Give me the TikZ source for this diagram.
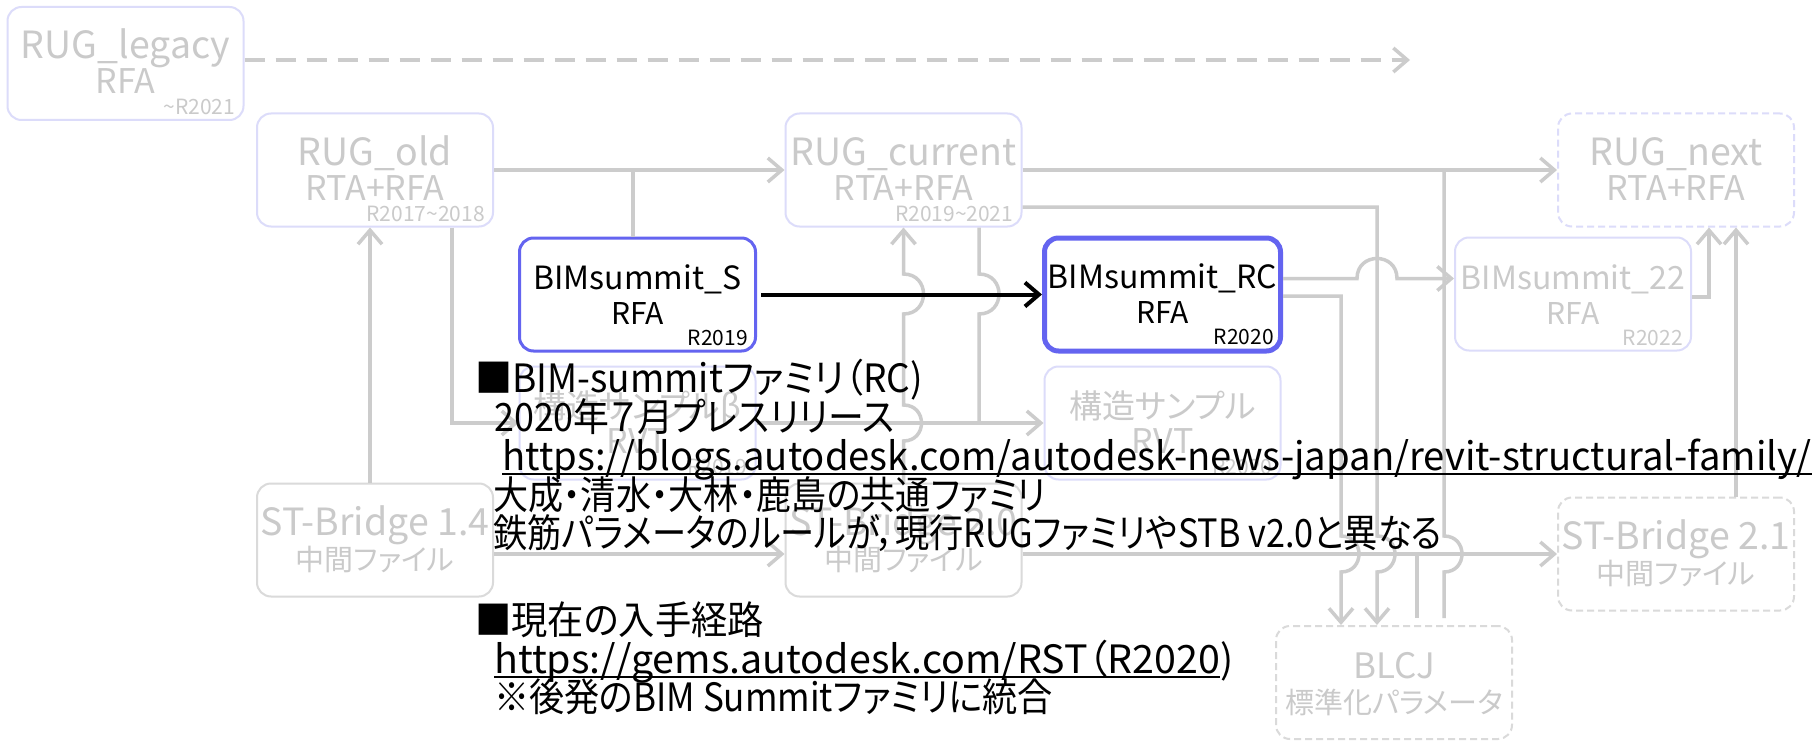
\documentclass[tikz,border=0pt]{standalone}
\usepackage{graphicx}
\usepackage{fontspec}
\setmainfont{Noto Sans CJK JP}[RawFeature=+palt]
\usetikzlibrary{arrows.meta}
\definecolor{lineg}{HTML}{CCCCCC}
\definecolor{txtg}{HTML}{CACACA}
\definecolor{lavc}{HTML}{DCDCFA}
\definecolor{boxg}{HTML}{DADADA}
\definecolor{blu}{HTML}{6464F0}
\newcommand\boxlbl[6]{%
  \node[lbl, text=#2, font=\fontsize{#3}{#3}\selectfont] (#1-t) at ([yshift=-53pt]#1.north) {#4};
  \node[lbl, text=#2, font=\fontsize{#5}{#5}\selectfont] (#1-s) at ([yshift=-88pt]#1.north) {#6};}
\newcommand\boxver[3]{\node[ver, text=#2] (#1-v) at ([xshift=-9pt,yshift=-109pt]#1.north east) {#3};}
\begin{document}
\begin{tikzpicture}[x=1pt,y=-1pt,
  rbox/.style={rounded corners=14pt, minimum width=236pt, minimum height=113pt, inner sep=0pt, line width=2pt},
  lav/.style={rbox, draw=lavc},
  gry/.style={rbox, draw=boxg},
  dsh/.style={dash pattern=on 7pt off 4pt},
  gline/.style={draw=lineg, line width=3.5pt},
  bline/.style={draw=black, line width=4pt},
  arr/.style={-{Straight Barb[length=14pt,width=24pt]}},
  lbl/.style={anchor=base, inner sep=0pt},
  ver/.style={anchor=base east, inner sep=0pt, font=\fontsize{21}{21}\selectfont},
  blk/.style={anchor=base west, inner sep=0pt, font=\fontsize{39}{39}\selectfont, text=black},
]
\fill[white] (0,0) rectangle (1816,741);
\useasboundingbox (0,0) rectangle (1816,741);

% ---------- boxes ----------
\node[lav] (legacy) at (125.5,63.5) {};
\node[lav] (old) at (375,170) {};
\node[lav] (cur) at (903.5,170) {};
\node[lav, dsh] (next) at (1676,170) {};
\node[rbox, draw=blu, line width=3pt] (S) at (637.5,294.5) {};
\node[rbox, draw=blu, line width=5pt] (RC) at (1162.5,294.5) {};
\node[lav] (b22) at (1573,294) {};
\node[lav] (kzb) at (637.5,423) {};
\node[lav] (kz) at (1162.5,423) {};
\node[gry] (st14) at (375,540) {};
\node[gry] (st20) at (903.5,540) {};
\node[gry, dsh] (st21) at (1676,554) {};
\node[gry, dsh] (blcj) at (1394,682.5) {};
\coordinate (dashend) at (1410,60);

% ---------- box labels ----------
\boxlbl{legacy}{txtg}{37.5}{RUG\_legacy}{34}{RFA}
\boxver{legacy}{txtg}{\textasciitilde R2021}
\boxlbl{old}{txtg}{37.5}{RUG\_old}{34}{RTA+RFA}
\boxver{old}{txtg}{R2017\textasciitilde 2018}
\boxlbl{cur}{txtg}{37.5}{RUG\_current}{34}{RTA+RFA}
\boxver{cur}{txtg}{R2019\textasciitilde 2021}
\boxlbl{next}{txtg}{37.5}{RUG\_next}{34}{RTA+RFA}
\boxlbl{b22}{txtg}{32}{BIMsummit\_22}{30}{RFA}
\boxver{b22}{txtg}{R2022}
\boxlbl{kzb}{txtg}{33}{構造サンプルβ}{34}{RVT}
\boxver{kzb}{txtg}{R2019}
\boxlbl{kz}{txtg}{33}{構造サンプル}{34}{RVT}
\boxver{kz}{txtg}{R2020}
\boxlbl{st14}{txtg}{37.5}{ST-Bridge 1.4}{29}{中間ファイル}
\boxlbl{st20}{txtg}{37.5}{ST-Bridge 2.0}{29}{中間ファイル}
\boxlbl{st21}{txtg}{37.5}{ST-Bridge 2.1}{29}{中間ファイル}
\boxlbl{blcj}{txtg}{35}{BLCJ}{29}{標準化パラメータ}

% ---------- grey connectors ----------
\draw[gline, arr, dash pattern=on 20pt off 11pt] ([yshift=3.5pt]legacy.east) -- (dashend);
\draw[gline, arr] (old.east) -- (cur.west);
\draw[gline] ([xshift=-4.5pt]S.north) -- (633,170);
\draw[gline, arr] ([xshift=77pt]old.south) |- (kzb.west);
\draw[gline, arr] (kzb.east) -- (kz.west);
\draw[gline] ([xshift=75.5pt]cur.south) -- (979,274)
  .. controls (1005.7,274) and (1005.7,314) .. (979,314) -- (979,423);
\draw[gline, arr] (st20.north) -- (903.5,441)
  .. controls (927.5,441) and (927.5,405) .. (903.5,405) -- (903.5,314)
  .. controls (930.2,314) and (930.2,274) .. (903.5,274) -- (cur.south);
\draw[gline, arr] (cur.east) -- (next.west);
\draw[gline, arr] ([yshift=-37pt]cur.east) -- (1377,207) -- (1377,536)
  .. controls (1401,536) and (1401,572) .. (1377,572) -- ([xshift=-17pt]blcj.north);
\draw[gline, arr] ([yshift=-1.5pt]RC.east) -- (1341,296) -- (1341,536)
  .. controls (1365,536) and (1365,572) .. (1341,572) -- ([xshift=-53pt]blcj.north);
\draw[gline, arr] ([yshift=16pt]RC.east) -- (1357,278.5)
  .. controls (1357,251.8) and (1397,251.8) .. (1397,278.5) -- ([yshift=15.5pt]b22.west);
\draw[gline, arr] ([yshift=-14pt]st14.east) -- ([yshift=-14pt]st20.west);
\draw[gline, arr] ([yshift=-14pt]st20.east) -- (st21.west);
\draw[gline, arr] ([xshift=-5pt]st14.north) -- ([xshift=-5pt]old.south);
\draw[gline, arr] ([xshift=60pt]st21.north) -- ([xshift=60pt]next.south);
\draw[gline, arr] ([yshift=-3pt]b22.east) -| ([xshift=33pt]next.south);
\draw[gline, shorten <=7pt] ([xshift=23pt]blcj.north) -- (1417,554);
\draw[gline, shorten <=7pt] ([xshift=50pt]blcj.north) -- (1444,572)
  .. controls (1468,572) and (1468,536) .. (1444,536) -- (1444,170);

% ---------- highlighted boxes ----------
\boxlbl{S}{black}{32}{BIMsummit\_S}{30}{RFA}
\boxver{S}{black}{R2019}
\boxlbl{RC}{black}{32}{BIMsummit\_RC}{30}{RFA}
\boxver{RC}{black}{R2020}
\draw[bline, arr] ([xshift=4pt]S.east) -- (RC.west);

% ---------- text block ----------
\node[blk] (t1) at (475,392) {\scalebox{0.95}[1]{■BIM-summitファミリ（RC)}};
\node[blk] (t2) at (494,431) {\scalebox{0.92}[1]{2020年７月プレスリリース}};
\node[blk] (t3) at (502,470) {\scalebox{0.98}[1]{https://blogs.autodesk.com/autodesk-news-japan/revit-structural-family/}};
\node[blk] (t4) at (493,509) {\scalebox{0.90}[1]{大成・清水・大林・鹿島の共通ファミリ}};
\node[blk] (t5) at (493,547) {\scalebox{0.877}[1]{鉄筋パラメータのルールが，現行RUGファミリやSTB v2.0と異なる}};
\node[blk] (t6) at (475,634) {\scalebox{0.93}[1]{■現在の入手経路}};
\node[blk] (t7a) at (494,673) {\scalebox{1.01}[1]{https://gems.autodesk.com/RST（R2020}};
\node[blk] (t7b) at (t7a.base east) {)};
\node[blk] (t8) at (494,711) {\scalebox{0.90}[1]{※後発のBIM Summitファミリに統合}};
\draw[line width=2pt] ([yshift=-4pt]t3.base west) -- ([yshift=-4pt]t3.base east);
\draw[line width=2pt] ([yshift=-4pt]t7a.base west) -- ([yshift=-4pt]t7a.base east);
\end{tikzpicture}
\end{document}
